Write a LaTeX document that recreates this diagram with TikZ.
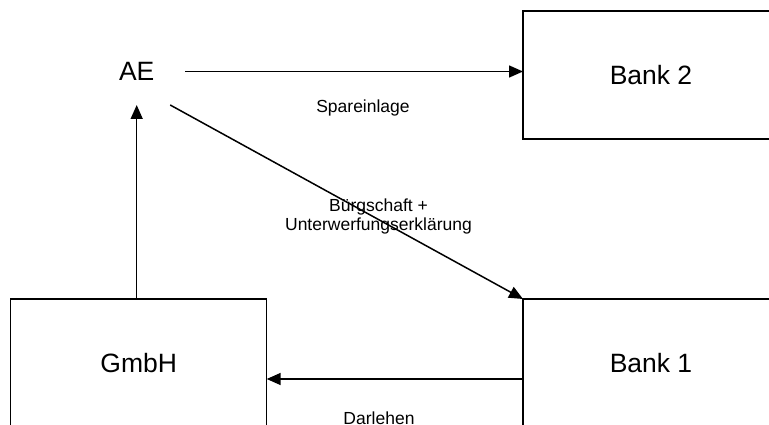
\documentclass[tikz,border=0pt]{standalone}
\usepackage{fontspec}
\setmainfont{Liberation Sans}
\usetikzlibrary{arrows.meta}
\begin{document}
\begin{tikzpicture}[x=1pt,y=-1pt,
  every node/.style={inner sep=0pt, outer sep=0pt},
  party/.style={draw, line width=1.5pt, minimum width=256pt, minimum height=128pt,
    font=\fontsize{26.5}{30}\selectfont},
  actor/.style={minimum width=97pt, minimum height=67pt,
    font=\fontsize{26.5}{30}\selectfont},
  flow/.style={line width=1.5pt, -{Triangle[length=14pt,width=12pt]}},
  note/.style={font=\fontsize{17.5}{20}\selectfont, align=center}]
  \clip (0,0) rectangle (769,425);
  \fill[white] (0,0) rectangle (769,425);

  % parties
  \node[actor] (AE) at (136.7,71.5) {AE};
  \node[party] (Bank2) at (651,75) {Bank 2};
  \node[party] (Bank1) at (651,363) {Bank 1};
  \node[party] (GmbH) at (138.7,363) {GmbH};

  % flows
  \draw[flow] (AE.east) -- (AE.east -| Bank2.west);
  \draw[flow] (AE.south |- GmbH.north) -- (AE.south);
  \draw[flow] (AE.-45) -- (Bank1.north west);
  \draw[flow] ([yshift=-16pt]Bank1.west) -- ([yshift=-16pt]Bank1.west -| GmbH.east);

  % labels
  \node[note, anchor=base] (spar) at (363,113) {Spareinlage};
  \node[note, anchor=base] (buerg) at (378.5,230) {Bürgschaft +\\[-1pt]Unterwerfungserklärung};
  \node[note, anchor=base] (darl) at (379,424) {Darlehen};
\end{tikzpicture}
\end{document}
